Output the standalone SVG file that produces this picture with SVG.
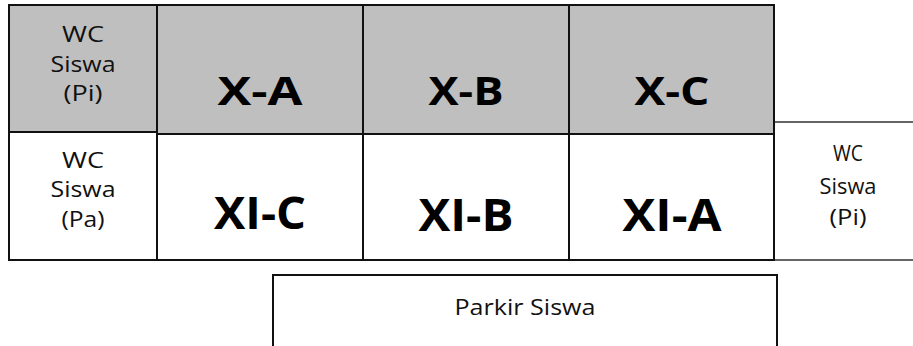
<svg xmlns="http://www.w3.org/2000/svg" width="913" height="346" viewBox="0 0 913 346">
  <style>
    .g { fill: #bfbfbf; stroke: #111; stroke-width: 2; }
    .w { fill: #ffffff; stroke: #111; stroke-width: 2; }
    .thin { fill: #ffffff; stroke: #333; stroke-width: 1.5; }
    .sm { font-family: "Open Sans", "Noto Sans", sans-serif; font-size: 21px; fill: #111; text-anchor: middle; }
    .big { font-family: "Open Sans", "Noto Sans", sans-serif; font-weight: bold; fill: #000; text-anchor: middle; }
  </style>
  <rect x="0" y="0" width="913" height="346" fill="#ffffff"/>

  <g id="wc-right">
    <rect class="thin" x="774" y="122" width="150" height="138"/>
    <text class="sm" x="848" y="161" textLength="30" lengthAdjust="spacingAndGlyphs">WC</text>
    <text class="sm" x="848" y="194" textLength="57" lengthAdjust="spacingAndGlyphs">Siswa</text>
    <text class="sm" x="848" y="225" textLength="37" lengthAdjust="spacingAndGlyphs">(Pi)</text>
  </g>

  <g id="wc-pi">
    <rect class="g" x="9" y="5" width="148" height="127"/>
    <text class="sm" x="83" y="42" textLength="42" lengthAdjust="spacingAndGlyphs">WC</text>
    <text class="sm" x="83" y="72" textLength="65" lengthAdjust="spacingAndGlyphs">Siswa</text>
    <text class="sm" x="83" y="101" textLength="39" lengthAdjust="spacingAndGlyphs">(Pi)</text>
  </g>

  <g id="wc-pa">
    <rect class="w" x="9" y="132" width="148" height="128"/>
    <text class="sm" x="83" y="168" textLength="42" lengthAdjust="spacingAndGlyphs">WC</text>
    <text class="sm" x="83" y="197" textLength="65" lengthAdjust="spacingAndGlyphs">Siswa</text>
    <text class="sm" x="83" y="227" textLength="43" lengthAdjust="spacingAndGlyphs">(Pa)</text>
  </g>

  <g id="x-a">
    <rect class="g" x="157" y="5" width="206" height="129"/>
    <text class="big" x="260" y="105" font-size="39" textLength="85" lengthAdjust="spacingAndGlyphs">X-A</text>
  </g>
  <g id="x-b">
    <rect class="g" x="363" y="5" width="206" height="129"/>
    <text class="big" x="466" y="105" font-size="39" textLength="75" lengthAdjust="spacingAndGlyphs">X-B</text>
  </g>
  <g id="x-c">
    <rect class="g" x="569" y="5" width="205" height="129"/>
    <text class="big" x="672" y="105" font-size="39" textLength="75" lengthAdjust="spacingAndGlyphs">X-C</text>
  </g>

  <g id="xi-c">
    <rect class="w" x="157" y="134" width="206" height="126"/>
    <text class="big" x="260" y="229" font-size="44" textLength="92" lengthAdjust="spacingAndGlyphs">XI-C</text>
  </g>
  <g id="xi-b">
    <rect class="w" x="363" y="134" width="206" height="126"/>
    <text class="big" x="466" y="231" font-size="44" textLength="95" lengthAdjust="spacingAndGlyphs">XI-B</text>
  </g>
  <g id="xi-a">
    <rect class="w" x="569" y="134" width="205" height="126"/>
    <text class="big" x="672" y="231" font-size="44" textLength="99" lengthAdjust="spacingAndGlyphs">XI-A</text>
  </g>

  <g id="parkir">
    <rect class="w" x="273" y="275" width="504" height="90"/>
    <text class="sm" x="525" y="315" font-size="22" textLength="141" lengthAdjust="spacingAndGlyphs">Parkir Siswa</text>
  </g>
</svg>
